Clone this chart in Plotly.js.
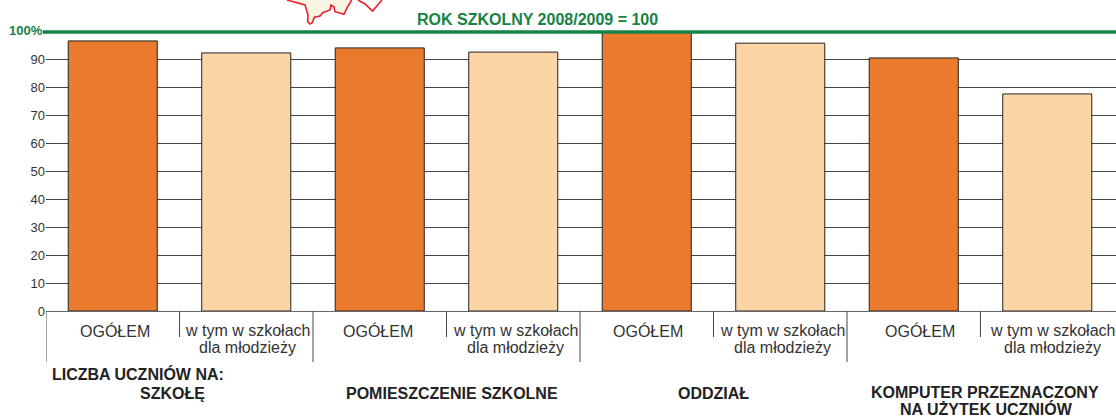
<!DOCTYPE html>
<html><head><meta charset="utf-8">
<script src="https://cdn.plot.ly/plotly-3.0.1.min.js"></script>
<style>html,body{margin:0;padding:0;background:#fff}</style></head>
<body><div id="c" style="width:1116px;height:418px"></div>
<script>
const positions = ["a1","a2","b1","b2","c1","c2","d1","d2"];
const values = [96.8, 92.5, 94.3, 92.8, 100, 96, 90.7, 77.8];
const subLabels = ["OGÓŁEM","w tym w szkołach","OGÓŁEM","w tym w szkołach","OGÓŁEM","w tym w szkołach","OGÓŁEM","w tym w szkołach"];
const subLabels2 = ["","dla młodzieży","","dla młodzieży","","dla młodzieży","","dla młodzieży"];
const tickVals = [0,10,20,30,40,50,60,70,80,90];
const colors = ["#EA7A2E","#FBD5A5"];
const font = "Liberation Sans, Arial, sans-serif";
const W=1116,H=418,L=46,R=0,T=32,B=107;
const fx=p=>(p-L)/(W-L-R), fy=p=>1-(p-T)/(H-T-B);
const pathOf=(pts,close)=>pts.map((p,i)=>(i?"L":"M")+fx(p[0]).toFixed(5)+","+fy(p[1]).toFixed(5)).join(" ")+(close?" Z":"");
const mapA=[[287,0],[305,5],[308,15],[307.7,21.7],[310,24],[312.3,22.7],[314.3,17.3],[320,16],[322.7,12.7],[330,10],[331,5],[334,6.7],[335,11.7],[344,14.3],[346.7,8.3],[351.7,0]];
const mapB=[[358,0],[365,4],[372.5,11],[382,0]];
const shapes = [], annotations = [];
shapes.push({type:"path",xref:"paper",yref:"paper",path:pathOf(mapA,true),fillcolor:"#FBF6E3",line:{width:0}});
[mapA,mapB].forEach(m=>shapes.push({type:"path",xref:"paper",yref:"paper",path:pathOf(m,false),line:{color:"#E8202E",width:1.6}}));
for(let i=0;i<8;i++){ shapes.push({type:"line",xref:"x",yref:"paper",x0:i-0.5,x1:i-0.5,y0:0,y1:-(i%2?26:51)/(H-T-B),line:{color:"#444",width:1}}); }
shapes.push({type:"line",xref:"paper",yref:"paper",x0:-0.003,x1:1,y0:1,y1:1,line:{color:"#168246",width:3.5},layer:"above"});
const ann=(o)=>annotations.push(Object.assign({showarrow:false,yref:"paper",y:0,yanchor:"top",xanchor:"center"},o));
const subShift=[2.5,1,-2,2,1,2.5,6,5];
subLabels.forEach((t,i)=>{
  ann({xref:"x",x:i,xshift:subShift[i],yshift:-9,text:t,font:{family:font,size:16,color:"#333"}});
  if(subLabels2[i]) ann({xref:"x",x:i,xshift:subShift[i],yshift:-26,text:subLabels2[i],font:{family:font,size:16,color:"#333"}});
});
const gf={family:font,size:16,color:"#222"};
const gl=(t,px,py)=>ann({xref:"paper",x:fx(px),yshift:-(py-311),text:"<b>"+t+"</b>",font:gf});
gl("LICZBA UCZNIÓW NA:",137.5,363);
gl("SZKOŁĘ",172,383);
gl("POMIESZCZENIE SZKOLNE",452,383);
gl("ODDZIAŁ",713,383);
gl("KOMPUTER PRZEZNACZONY",985,382);
gl("NA UŻYTEK UCZNIÓW",986,398);
ann({xref:"paper",x:0,xshift:-1,yref:"paper",y:1,yshift:2,xanchor:"right",yanchor:"middle",text:"<b>100%</b>",font:{family:font,size:13,color:"#168246"}});
ann({xref:"paper",x:fx(537),y:1,yshift:2,yanchor:"bottom",text:"<b>ROK SZKOLNY 2008/2009 = 100</b>",font:{family:font,size:16,color:"#168246"}});
Plotly.newPlot("c",[{type:"bar",x:positions,y:values,width:0.667,
  marker:{color:positions.map((_,i)=>colors[i%2]),line:{color:"#222",width:1}},hoverinfo:"skip",showlegend:false}],
{width:W,height:H,margin:{l:L,r:R,t:T,b:B,pad:0},paper_bgcolor:"#fff",plot_bgcolor:"#fff",showlegend:false,
 xaxis:{type:"category",categoryorder:"array",categoryarray:positions,range:[-0.5,7.515],showticklabels:false,ticks:"",showgrid:false,zeroline:false,showline:false},
 yaxis:{range:[0,100],tickvals:tickVals,ticktext:tickVals.map(String),ticks:"",showgrid:true,gridcolor:"#444",gridwidth:1,zeroline:true,zerolinecolor:"#666",zerolinewidth:1,showline:false,tickfont:{family:font,size:13,color:"#333"}},
 shapes,annotations},{displayModeBar:false,staticPlot:true});
</script></body></html>
